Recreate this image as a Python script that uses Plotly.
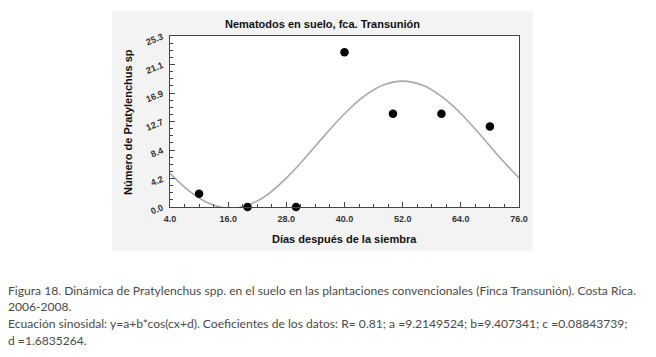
import plotly.graph_objects as go

# Observed data points
days = [10, 20, 30, 40, 50, 60, 70]
pratylenchus = [1.95, 0.0, 0.0, 22.9, 13.8, 13.8, 11.9]

# Fitted sinusoidal curve, every 4 days
curve_days = [4, 8, 12, 16, 20, 24, 28, 32, 36, 40, 44, 48, 52, 56, 60, 64, 68, 72, 76]
curve_vals = [4.98, 2.34, 0.54, -0.18, 0.26, 1.77, 4.27, 7.36, 10.67, 13.80,
              16.36, 18.04, 18.62, 18.04, 16.37, 13.83, 10.68, 7.37, 4.29]

x_tickvals = [4, 16, 28, 40, 52, 64, 76]
x_ticktext = ["4.0", "16.0", "28.0", "40.0", "52.0", "64.0", "76.0"]
y_tickvals = [0, 4.2167, 8.4333, 12.65, 16.8667, 21.0833, 25.3]
y_ticktext = ["0.0", "4.2", "8.4", "12.7", "16.9", "21.1", "25.3"]

title_text = "Nematodos en suelo, fca. Transunión"
x_title = "Días después de la siembra"
y_title = "Número de Pratylenchus sp"
caption_lines = [
    "Figura 18. Dinámica de Pratylenchus spp. en el suelo en las plantaciones convencionales (Finca Transunión). Costa Rica.",
    "2006-2008.",
    "Ecuación sinosidal: y=a+b*cos(cx+d). Coeficientes de los datos: R= 0.81; a =9.2149524; b=9.407341; c =0.08843739;",
    "d =1.6835264.",
]

# page geometry (pixels); the page body adds an 8px offset
OFF = 8
W, H = 656 - OFF, 357 - OFF
L, R, T, B = 170, 519, 36, 207
pw, ph = R - L, B - T


def px(x):
    return (x - L) / pw


def py(y):
    return (B - y) / ph


fig = go.Figure()
fig.add_trace(go.Scatter(
    x=curve_days, y=curve_vals, mode="lines", line_shape="spline",
    line=dict(color="#a8a8a8", width=1.6), hoverinfo="skip", showlegend=False))
fig.add_trace(go.Scatter(
    x=days, y=pratylenchus, mode="markers", cliponaxis=False,
    marker=dict(color="black", size=8.5), showlegend=False))

tickfont = dict(family="Liberation Sans, Arial", size=9, color="#333", weight="bold")
axis_common = dict(showline=True, linecolor="#444", linewidth=1, mirror=True,
                   ticks="inside", tickcolor="#444", ticklen=5, showgrid=False,
                   zeroline=False, tickfont=tickfont)

fig.update_xaxes(range=[4, 76], tickvals=x_tickvals, ticktext=x_ticktext,
                 ticklabelstandoff=3,
                 minor=dict(dtick=3, tick0=4, ticks="inside", ticklen=3, tickcolor="#444"),
                 **axis_common)
fig.update_yaxes(range=[0, 25.3], tickvals=y_tickvals, ticktext=y_ticktext,
                 tickangle=-22, ticklabelstandoff=5,
                 minor=dict(dtick=25.3 / 24, tick0=0, ticks="inside", ticklen=3, tickcolor="#444"),
                 **axis_common)

shapes = [
    dict(type="rect", xref="paper", yref="paper", layer="below",
         x0=px(112), x1=px(533), y0=py(251), y1=py(11),
         fillcolor="#f3f3f3", line=dict(width=0)),
    dict(type="rect", xref="paper", yref="paper", layer="below",
         x0=0, x1=1, y0=0, y1=1, fillcolor="white", line=dict(width=0)),
]

bold = dict(family="Liberation Sans, Arial", size=11, color="#111", weight="bold")
annotations = [
    dict(text=title_text, x=px(322.5), y=py(24), xref="paper", yref="paper",
         showarrow=False, font=bold, xanchor="center", yanchor="middle"),
    dict(text=x_title, x=px(344.5), y=py(239), xref="paper", yref="paper",
         showarrow=False, font=bold, xanchor="center", yanchor="middle"),
    dict(text=y_title, x=px(128), y=py(122), xref="paper", yref="paper",
         showarrow=False, font=bold, textangle=-90, xanchor="center", yanchor="middle"),
]
cap_font = dict(family="Lato, Open Sans", size=12.1, color="#4a4a4a")
for line, yy in zip(caption_lines, [290, 306, 323, 340]):
    annotations.append(dict(text=line, x=px(6), y=py(yy), xref="paper", yref="paper",
                            showarrow=False, font=cap_font, xanchor="left", yanchor="middle"))

fig.update_layout(width=W, height=H,
                  margin=dict(l=L - OFF, r=656 - R, t=T - OFF, b=357 - B),
                  paper_bgcolor="white", plot_bgcolor="white",
                  shapes=shapes, annotations=annotations)

fig.write_html("out.html")
